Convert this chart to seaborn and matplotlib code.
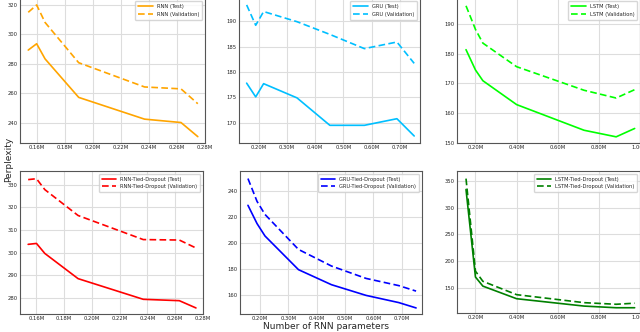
import matplotlib
matplotlib.use("Agg")
import matplotlib.pyplot as plt
import seaborn as sns
import pandas as pd

# parameter counts (millions)
rnn_params = [0.154, 0.160, 0.166, 0.190, 0.237, 0.263, 0.275]
gru_params = [0.158, 0.190, 0.218, 0.336, 0.452, 0.574, 0.689, 0.750]
lstm_params = [0.154, 0.200, 0.236, 0.400, 0.728, 0.884, 0.974]

rnn_test = [289.3, 293.6, 283.3, 257.1, 242.3, 240.0, 230.4]
rnn_val = [315.0, 320.0, 308.1, 280.7, 264.2, 262.9, 252.8]
gru_test = [177.8, 175.1, 177.7, 174.9, 169.5, 169.5, 170.8, 167.4]
gru_val = [193.2, 189.2, 191.9, 189.9, 187.4, 184.6, 185.9, 181.7]
lstm_test = [181.3, 174.5, 170.9, 162.9, 154.3, 152.1, 154.9]
lstm_val = [196.0, 188.1, 183.5, 175.6, 167.7, 165.1, 167.9]

rnn_td_test = [303.7, 304.1, 299.7, 288.6, 279.5, 278.9, 275.7]
rnn_td_val = [332.2, 332.6, 327.8, 316.4, 305.8, 305.6, 302.1]
gru_td_test = [229.0, 215.0, 205.5, 179.7, 168.2, 160.0, 154.5, 150.4]
gru_td_val = [249.5, 232.0, 222.0, 195.2, 182.5, 173.0, 167.5, 163.3]
lstm_td_test = [334.0, 170.0, 153.0, 129.4, 115.6, 112.5, 112.5]
lstm_td_val = [354.4, 181.0, 162.0, 137.0, 122.0, 119.0, 121.0]

panels = [
    ("RNN", rnn_params, rnn_test, rnn_val, "#FFA500",
     [0.16, 0.18, 0.20, 0.22, 0.24, 0.26, 0.28], (0.148, 0.28), (226, 324.5), [240, 260, 280, 300, 320]),
    ("GRU", gru_params, gru_test, gru_val, "#00BFFF",
     [0.2, 0.3, 0.4, 0.5, 0.6, 0.7], (0.13, 0.77), (166, 194.5), [170, 175, 180, 185, 190]),
    ("LSTM", lstm_params, lstm_test, lstm_val, "#00FF00",
     [0.2, 0.4, 0.6, 0.8, 1.0], (0.11, 1.0), (150, 198.5), [150, 160, 170, 180, 190]),
    ("RNN-Tied-Dropout", rnn_params, rnn_td_test, rnn_td_val, "#FF0000",
     [0.16, 0.18, 0.20, 0.22, 0.24, 0.26, 0.28], (0.148, 0.28), (273, 336), [280, 290, 300, 310, 320, 330]),
    ("GRU-Tied-Dropout", gru_params, gru_td_test, gru_td_val, "#0000FF",
     [0.2, 0.3, 0.4, 0.5, 0.6, 0.7], (0.13, 0.77), (145.7, 255.3), [160, 180, 200, 220, 240]),
    ("LSTM-Tied-Dropout", lstm_params, lstm_td_test, lstm_td_val, "#008000",
     [0.2, 0.4, 0.6, 0.8, 1.0], (0.11, 1.0), (102.5, 368.7), [150, 200, 250, 300, 350]),
]

sns.set_style("whitegrid", {"grid.color": "#dddddd", "axes.edgecolor": "#555555"})
plt.rcParams["font.family"] = ["DejaVu Sans"]

fig = plt.figure(figsize=(6.4, 3.32), dpi=100)
rects = [
    (0.031, 0.569, 0.289, 0.436), (0.373, 0.569, 0.283, 0.436), (0.714, 0.569, 0.286, 0.436),
    (0.031, 0.054, 0.286, 0.431), (0.375, 0.054, 0.284, 0.431), (0.714, 0.057, 0.286, 0.428),
]

for rect, (name, xs, test, val, color, xt, xl, yl, yt) in zip(rects, panels):
    ax = fig.add_axes(rect)
    df = pd.DataFrame({"params": xs + xs, "ppl": test + val,
                       "split": [f"{name} (Test)"] * len(xs) + [f"{name} (Validation)"] * len(xs)})
    sns.lineplot(data=df, x="params", y="ppl", style="split", color=color, linewidth=1.2,
                 dashes=[(None, None), (4, 2)], ax=ax)
    ax.set_xticks(xt)
    ax.set_xticklabels([f"{v:.2f}M" for v in xt])
    ax.set_yticks(yt)
    ax.set_xlim(*xl)
    ax.set_ylim(*yl)
    ax.tick_params(labelsize=3.8, pad=1.5, length=0)
    ax.set_xlabel("")
    ax.set_ylabel("")
    for s in ax.spines.values():
        s.set_linewidth(0.8)
    ax.legend(loc="upper right", fontsize=3.7, frameon=True, handlelength=2.8,
              borderpad=0.6, labelspacing=0.5)

fig.text(0.006, 0.52, "Perplexity", rotation=90, va="center", ha="left", fontsize=6.5)
fig.text(0.509, 0.009, "Number of RNN parameters", ha="center", va="baseline", fontsize=6.5)

fig.savefig("out.png", dpi=100)
